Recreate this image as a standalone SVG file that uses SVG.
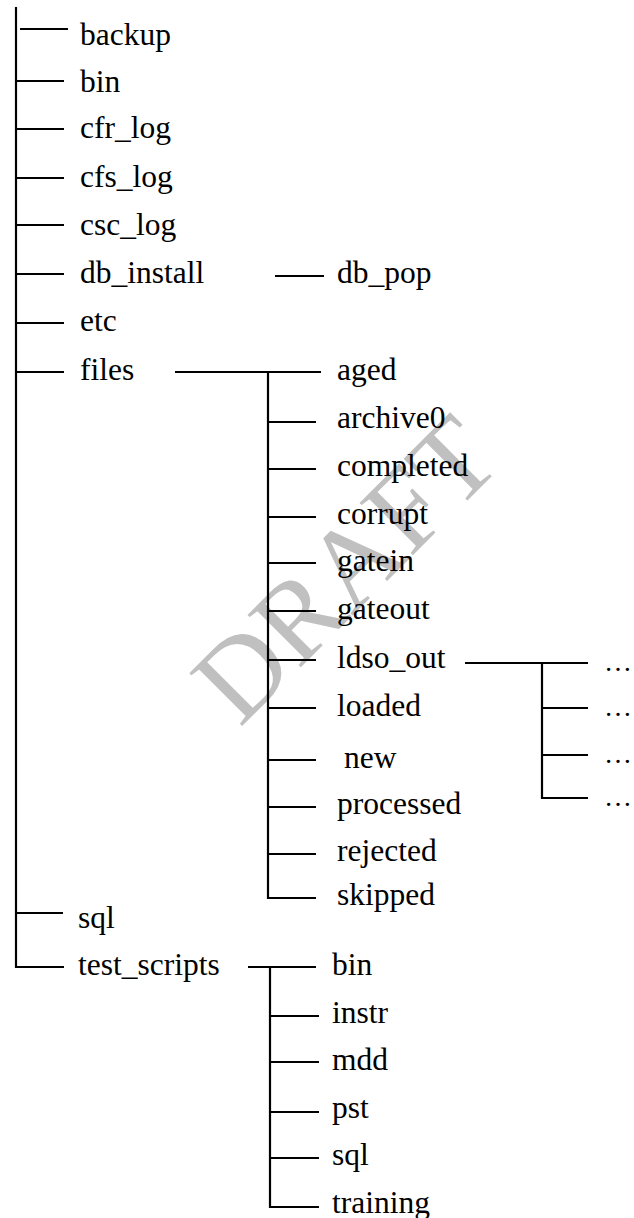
<svg xmlns="http://www.w3.org/2000/svg" width="634" height="1218" viewBox="0 0 634 1218">
<style>
.t{font-family:"Liberation Serif","Times New Roman",serif;font-size:31.5px;fill:#000}
.e{font-family:"Liberation Serif","Times New Roman",serif;font-size:28px;fill:#000}
.c line,.c path{stroke:#000;stroke-width:2.2;fill:none}
.wm{font-family:"Liberation Serif","Times New Roman",serif;font-size:114px;fill:#c0c0c0}
</style>
<rect width="634" height="1218" fill="#fff"/>
<text class="wm" x="372" y="596" text-anchor="middle" transform="rotate(-45 372 596)">DRAFT</text>
<g id="connectors" class="c">
<path d="M16 7 V967 H64"/>
<line x1="20" y1="29" x2="68" y2="29"/>
<line x1="16" y1="81" x2="64" y2="81"/>
<line x1="16" y1="129" x2="64" y2="129"/>
<line x1="16" y1="178" x2="64" y2="178"/>
<line x1="16" y1="225" x2="64" y2="225"/>
<line x1="16" y1="274" x2="64" y2="274"/>
<line x1="16" y1="323" x2="64" y2="323"/>
<line x1="16" y1="372" x2="64" y2="372"/>
<line x1="16" y1="913" x2="63" y2="913"/>
<line x1="275" y1="276" x2="324" y2="276"/>
<line x1="175" y1="372" x2="321" y2="372"/>
<path d="M268 372 V898 H316"/>
<line x1="268" y1="422" x2="316" y2="422"/>
<line x1="268" y1="469" x2="316" y2="469"/>
<line x1="268" y1="517" x2="316" y2="517"/>
<line x1="268" y1="563" x2="316" y2="563"/>
<line x1="268" y1="611" x2="316" y2="611"/>
<line x1="268" y1="660" x2="316" y2="660"/>
<line x1="268" y1="708" x2="316" y2="708"/>
<line x1="268" y1="760" x2="316" y2="760"/>
<line x1="268" y1="807" x2="316" y2="807"/>
<line x1="268" y1="854" x2="316" y2="854"/>
<line x1="465" y1="663" x2="588" y2="663"/>
<path d="M542 663 V798 H588"/>
<line x1="542" y1="708" x2="588" y2="708"/>
<line x1="542" y1="755" x2="588" y2="755"/>
<line x1="248" y1="967" x2="316" y2="967"/>
<path d="M270 967 V1207 H319"/>
<line x1="270" y1="1016" x2="319" y2="1016"/>
<line x1="270" y1="1062" x2="319" y2="1062"/>
<line x1="270" y1="1112" x2="319" y2="1112"/>
<line x1="270" y1="1158" x2="319" y2="1158"/>
</g>
<g id="n-backup"><text class="t" x="80" y="45">backup</text></g>
<g id="n-bin"><text class="t" x="80" y="92">bin</text></g>
<g id="n-cfr_log"><text class="t" x="80" y="138">cfr_log</text></g>
<g id="n-cfs_log"><text class="t" x="80" y="187">cfs_log</text></g>
<g id="n-csc_log"><text class="t" x="80" y="235">csc_log</text></g>
<g id="n-db_install"><text class="t" x="80" y="283">db_install</text></g>
<g id="n-etc"><text class="t" x="80" y="331">etc</text></g>
<g id="n-files"><text class="t" x="80" y="380">files</text></g>
<g id="n-sql"><text class="t" x="78" y="928">sql</text></g>
<g id="n-test_scripts"><text class="t" x="78" y="975">test_scripts</text></g>
<g id="n-db_pop"><text class="t" x="337" y="283">db_pop</text></g>
<g id="n-aged"><text class="t" x="337" y="380">aged</text></g>
<g id="n-archive0"><text class="t" x="337" y="428">archive0</text></g>
<g id="n-completed"><text class="t" x="337" y="476">completed</text></g>
<g id="n-corrupt"><text class="t" x="337" y="524">corrupt</text></g>
<g id="n-gatein"><text class="t" x="337" y="571">gatein</text></g>
<g id="n-gateout"><text class="t" x="337" y="619">gateout</text></g>
<g id="n-ldso_out"><text class="t" x="337" y="668">ldso_out</text></g>
<g id="n-loaded"><text class="t" x="337" y="716">loaded</text></g>
<g id="n-new"><text class="t" x="344" y="768">new</text></g>
<g id="n-processed"><text class="t" x="337" y="814">processed</text></g>
<g id="n-rejected"><text class="t" x="337" y="861">rejected</text></g>
<g id="n-skipped"><text class="t" x="337" y="905">skipped</text></g>
<g id="n-e1"><text class="e" x="604" y="671">…</text></g>
<g id="n-e2"><text class="e" x="604" y="716">…</text></g>
<g id="n-e3"><text class="e" x="604" y="763">…</text></g>
<g id="n-e4"><text class="e" x="604" y="806">…</text></g>
<g id="n-ts-bin"><text class="t" x="332" y="975">bin</text></g>
<g id="n-ts-instr"><text class="t" x="332" y="1023">instr</text></g>
<g id="n-ts-mdd"><text class="t" x="332" y="1070">mdd</text></g>
<g id="n-ts-pst"><text class="t" x="332" y="1118">pst</text></g>
<g id="n-ts-sql"><text class="t" x="332" y="1165">sql</text></g>
<g id="n-ts-training"><text class="t" x="332" y="1213">training</text></g>
</svg>
